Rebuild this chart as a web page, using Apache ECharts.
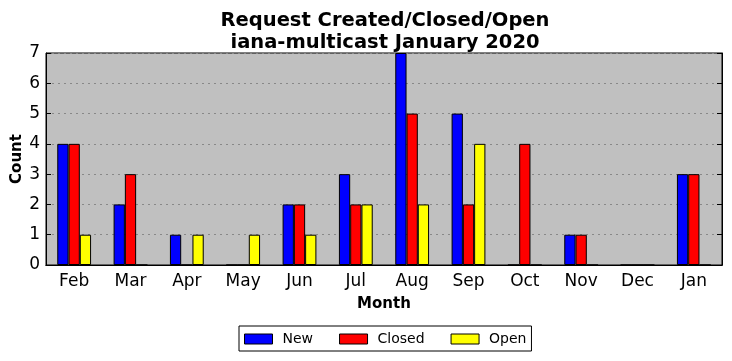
<!DOCTYPE html>
<html>
<head>
<meta charset="utf-8">
<script src="https://cdn.jsdelivr.net/npm/echarts@6/dist/echarts.min.js"></script>
<style>html,body{margin:0;padding:0;background:#fff;}#c{width:732px;height:361px;}</style>
</head>
<body>
<div id="c"></div>
<script>
const months = ['Feb','Mar','Apr','May','Jun','Jul','Aug','Sep','Oct','Nov','Dec','Jan'];
const newVals = [4,2,1,0,2,3,7,5,0,1,0,3];
const closedVals = [4,3,0,0,2,2,5,2,4,1,0,3];
const openVals = [1,0,1,1,1,2,2,4,0,0,0,0];
const seriesNames = ['New','Closed','Open'];
const colors = ['#0000ff','#ff0000','#ffff00'];

const font = 'DejaVu Sans';
const chart = echarts.init(document.getElementById('c'));
const mk = (name, data, color) => ({
  name, type: 'bar', data, xAxisIndex: 0, yAxisIndex: 0,
  barWidth: '20%', barGap: '0%',
  itemStyle: {color, borderColor: '#000', borderWidth: 1},
  emphasis: {disabled: true}
});
chart.setOption({
  animation: false,
  backgroundColor: '#fff',
  title: {
    text: 'Request Created/Closed/Open\niana-multicast January 2020',
    left: 380, top: 5, textAlign: 'center',
    textStyle: {fontFamily: font, fontWeight: 'bold', fontSize: 19.5, lineHeight: 22, color: '#000'}
  },
  legend: {
    data: seriesNames, top: 326, left: 239,
    selectedMode: false, icon: 'rect',
    itemWidth: 28, itemHeight: 10, itemGap: 26,
    borderColor: '#000', borderWidth: 1, padding: [6, 5, 5, 5],
    backgroundColor: '#fff',
    itemStyle: {borderColor: '#000', borderWidth: 1},
    textStyle: {fontFamily: font, fontSize: 14, color: '#000', padding: [0, 0, 0, 5]}
  },
  grid: {left: 46, right: 10, top: 53, bottom: 96, show: true, backgroundColor: '#c0c0c0', borderColor: '#000', borderWidth: 1, outerBoundsMode: 'none', containLabel: false},
  xAxis: [{
    type: 'category', data: months, position: 'bottom',
    name: 'Month', nameLocation: 'middle', nameGap: 32,
    nameTextStyle: {fontFamily: font, fontWeight: 'bold', fontSize: 15, color: '#000'},
    axisLine: {lineStyle: {color: '#000'}},
    axisTick: {inside: true, alignWithLabel: true, length: 5, lineStyle: {color: '#000'}},
    axisLabel: {fontFamily: font, fontSize: 17, color: '#000', margin: 8}
  }, {
    type: 'category', data: months, position: 'top',
    axisLine: {lineStyle: {color: '#000'}},
    axisTick: {inside: true, alignWithLabel: true, length: 5, lineStyle: {color: '#000'}},
    axisLabel: {show: false}
  }],
  yAxis: [{
    type: 'value', min: 0, max: 7, interval: 1, position: 'left',
    name: 'Count', nameLocation: 'middle', nameGap: 21, nameMoveOverlap: false,
    nameTextStyle: {fontFamily: font, fontWeight: 'bold', fontSize: 15, color: '#000'},
    axisLine: {show: true, lineStyle: {color: '#000'}},
    axisTick: {show: true, inside: true, length: 5, lineStyle: {color: '#000'}},
    axisLabel: {fontFamily: font, fontSize: 17, color: '#000', margin: 6},
    splitLine: {show: true, lineStyle: {color: '#888', type: [2, 4], width: 1}}
  }, {
    type: 'value', min: 0, max: 7, interval: 1, position: 'right',
    axisLine: {show: true, lineStyle: {color: '#000'}},
    axisTick: {show: true, inside: true, length: 5, lineStyle: {color: '#000'}},
    axisLabel: {show: false},
    splitLine: {show: false}
  }],
  series: [
    mk(seriesNames[0], newVals, colors[0]),
    mk(seriesNames[1], closedVals, colors[1]),
    mk(seriesNames[2], openVals, colors[2])
  ]
});
</script>
</body>
</html>
